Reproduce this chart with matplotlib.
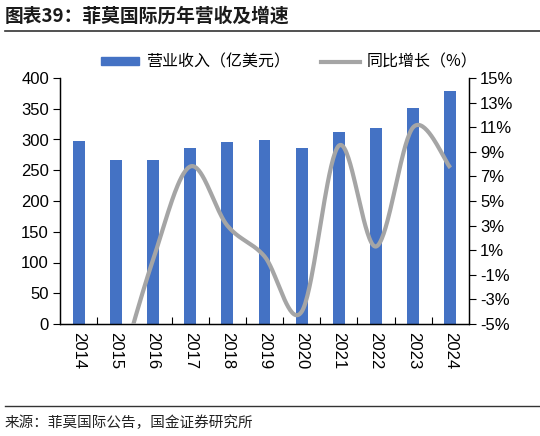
import numpy as np
import matplotlib
matplotlib.use("Agg")
import matplotlib.pyplot as plt
from matplotlib.lines import Line2D
from matplotlib.patches import Patch

plt.rcParams['font.family'] = ['Liberation Sans', 'Noto Sans CJK SC', 'DejaVu Sans']

years = ["2014", "2015", "2016", "2017", "2018", "2019", "2020", "2021", "2022", "2023", "2024"]
revenue = [298, 267, 267, 286, 296, 299, 286, 313, 318, 352, 379]
growth = [np.nan, -10.0, 0.2, 7.8, 3.0, 0.5, -4.0, 9.5, 1.3, 11.0, 7.7]
left_ticks = [0, 50, 100, 150, 200, 250, 300, 350, 400]
right_ticks = [-5, -3, -1, 1, 3, 5, 7, 9, 11, 13, 15]

BLUE = "#4472C4"
GRAY = "#A5A5A5"
CJK = ['Noto Sans CJK SC', 'DejaVu Sans']

W, H = 540, 436
fig = plt.figure(figsize=(W / 100, H / 100), dpi=100)
ax = fig.add_axes([60 / W, 1 - 324 / H, (469 - 60) / W, (324 - 78) / H])
ax2 = ax.twinx()

x = np.arange(len(years))
ax.bar(x, revenue, width=0.32, color=BLUE, zorder=2)
ax.set_xlim(-0.5, len(years) - 0.5)
ax.set_ylim(0, 400)
ax.set_yticks(left_ticks)
ax.set_yticklabels([str(t) for t in left_ticks], fontsize=12)
ax.set_xticks(x)
ax.set_xticklabels(years, rotation=-90, fontsize=12)
ax.tick_params(axis='x', which='major', length=0, pad=6)
ax.set_xticks(np.arange(0.5, len(years) - 1, 1.0), minor=True)
ax.tick_params(axis='x', which='minor', direction='in', length=5, width=0.8)
ax.tick_params(axis='y', direction='out', length=5, width=0.8, pad=3)
for s in ['top']:
    ax.spines[s].set_visible(False)
    ax2.spines[s].set_visible(False)
for s in ['left', 'bottom', 'right']:
    ax.spines[s].set_linewidth(0.9)
    ax2.spines[s].set_linewidth(0.9)

# Catmull-Rom smoothing for display of the growth line
gx = x[1:].astype(float)
gy = np.array(growth[1:], dtype=float)
px = np.concatenate([[gx[0]], gx, [gx[-1]]])
py = np.concatenate([[gy[0]], gy, [gy[-1]]])
cx, cy = [], []
t = np.linspace(0, 1, 40)
for i in range(1, len(px) - 2):
    p0, p1, p2, p3 = [np.array([px[j], py[j]]) for j in (i - 1, i, i + 1, i + 2)]
    b1 = p1 + (p2 - p0) / 6
    b2 = p2 - (p3 - p1) / 6
    pts = ((1 - t) ** 3)[:, None] * p1 + (3 * (1 - t) ** 2 * t)[:, None] * b1 + \
          (3 * (1 - t) * t ** 2)[:, None] * b2 + (t ** 3)[:, None] * p2
    cx.extend(pts[:, 0]); cy.extend(pts[:, 1])
ax2.plot(cx, cy, color=GRAY, lw=3.0, solid_capstyle='butt', zorder=3)
ax2.set_ylim(-5, 15)
ax2.set_yticks(right_ticks)
ax2.set_yticklabels([f"{t}%" for t in right_ticks], fontsize=12)
ax2.tick_params(axis='y', direction='out', length=5, width=0.8, pad=3)

handles = [Patch(facecolor=BLUE, edgecolor=BLUE), Line2D([0], [0], color=GRAY, lw=3)]
leg = fig.legend(handles, ["营业收入（亿美元）", "同比增长（%）"], loc='center',
                 bbox_to_anchor=(0.535, 1 - 62 / H), ncol=2, frameon=False,
                 prop={'family': CJK, 'size': 11.5}, handlelength=2.4, handleheight=0.45,
                 columnspacing=2.0, handletextpad=0.4)

fig.text(5 / W, 1 - 16 / H, "图表39：菲莫国际历年营收及增速", fontsize=13.5, fontweight='bold',
         family=CJK, va='center', ha='left', color='#1a1a1a')
fig.add_artist(Line2D([5 / W, 1.0], [1 - 31 / H, 1 - 31 / H], color='#333333', lw=1.2))
fig.add_artist(Line2D([5 / W, 1.0], [1 - 406 / H, 1 - 406 / H], color='#333333', lw=1.0))
fig.text(5 / W, 1 - 423 / H, "来源：菲莫国际公告，国金证券研究所", fontsize=10.5,
         family=CJK, va='center', ha='left', color='#222222')

fig.savefig("out.png", dpi=100)
